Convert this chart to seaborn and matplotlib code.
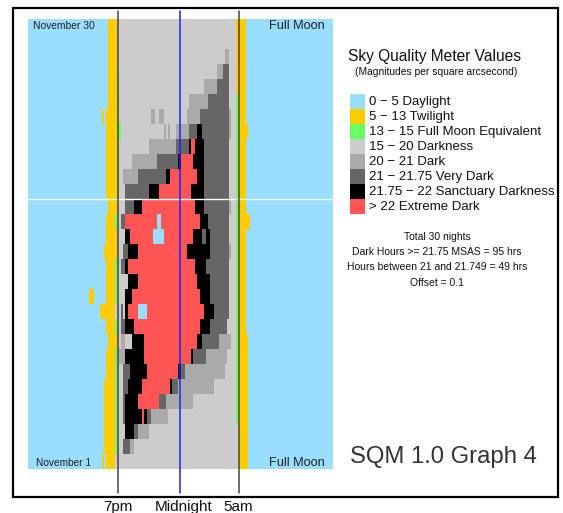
import matplotlib
matplotlib.use("Agg")
import matplotlib.pyplot as plt
from matplotlib.colors import ListedColormap
from matplotlib.patches import Rectangle
import numpy as np
import seaborn as sns

# sky quality classes (index = level used in the grid)
levels = ["0 \u2212 5 Daylight", "5 \u2212 13 Twilight", "13 \u2212 15 Full Moon Equivalent",
          "15 \u2212 20 Darkness", "20 \u2212 21 Dark", "21 \u2212 21.75 Very Dark",
          "21.75 \u2212 22 Sanctuary Darkness", "> 22 Extreme Dark"]
level_colors = ["#99ddff", "#ffcc00", "#66ff66", "#cccccc", "#aaaaaa", "#666666", "#000000", "#ff5555"]

# 10 minute slots from noon to noon
n_slots = 144

# each night: (level, first slot), top row = November 30
nights = [
    [(0, 0), (1, 38), (3, 42), (1, 98), (0, 103)],
    [(0, 0), (1, 38), (3, 42), (1, 98), (0, 103)],
    [(0, 0), (1, 38), (3, 42), (4, 93), (3, 95), (1, 98), (0, 103)],
    [(0, 0), (1, 38), (3, 42), (4, 89), (5, 92), (3, 95), (1, 98), (0, 103)],
    [(0, 0), (1, 38), (2, 42), (3, 43), (4, 83), (5, 89), (3, 95), (1, 98), (0, 103)],
    [(0, 0), (1, 38), (2, 42), (3, 43), (4, 76), (5, 85), (3, 95), (2, 98), (1, 99), (0, 103)],
    [(0, 0), (1, 35), (0, 36), (1, 37), (2, 42), (3, 43), (4, 58), (3, 60), (4, 62), (3, 64), (4, 75),
     (5, 81), (4, 95), (3, 96), (2, 98), (1, 99), (0, 103)],
    [(0, 0), (1, 37), (2, 42), (3, 44), (4, 64), (3, 65), (4, 66), (3, 67), (4, 70), (5, 76), (6, 80),
     (5, 82), (4, 95), (3, 96), (2, 98), (1, 99), (0, 104)],
    [(0, 0), (1, 37), (2, 42), (3, 43), (4, 57), (5, 70), (6, 76), (7, 77), (6, 79), (5, 83), (3, 95),
     (2, 98), (1, 99), (0, 103)],
    [(0, 0), (1, 37), (2, 42), (3, 43), (4, 49), (5, 61), (6, 71), (7, 72), (6, 78), (5, 83), (3, 95),
     (2, 98), (1, 99), (0, 103)],
    [(0, 0), (1, 37), (2, 42), (3, 43), (4, 45), (5, 52), (6, 65), (7, 67), (6, 80), (5, 83), (3, 95),
     (2, 98), (1, 99), (0, 103)],
    [(0, 0), (1, 37), (2, 42), (3, 43), (5, 46), (6, 57), (7, 62), (6, 77), (5, 83), (3, 95), (2, 98),
     (1, 99), (0, 103)],
    [(0, 0), (1, 38), (3, 42), (5, 46), (6, 50), (7, 54), (6, 79), (5, 83), (4, 95), (3, 96), (2, 98),
     (1, 99), (0, 103)],
    [(0, 0), (1, 37), (2, 41), (3, 42), (5, 44), (7, 46), (0, 61), (7, 63), (6, 81), (5, 85), (3, 95),
     (2, 98), (1, 99), (0, 105)],
    [(0, 0), (1, 37), (3, 42), (6, 46), (7, 48), (0, 59), (7, 64), (6, 78), (5, 82), (6, 84), (5, 86),
     (3, 95), (2, 98), (1, 99), (0, 103)],
    [(0, 0), (1, 36), (3, 42), (5, 45), (6, 47), (7, 52), (6, 75), (5, 86), (4, 95), (3, 96), (2, 98),
     (1, 99), (0, 103)],
    [(0, 0), (1, 37), (2, 41), (3, 42), (5, 44), (6, 46), (7, 47), (6, 79), (5, 84), (3, 95), (2, 98),
     (1, 99), (0, 103)],
    [(0, 0), (1, 37), (2, 41), (3, 42), (6, 47), (7, 52), (6, 80), (5, 86), (3, 95), (2, 98), (1, 99),
     (0, 103)],
    [(0, 0), (1, 29), (0, 31), (1, 37), (2, 41), (3, 42), (6, 46), (7, 49), (6, 81), (5, 86), (3, 95),
     (2, 98), (1, 99), (0, 103)],
    [(0, 0), (1, 34), (3, 41), (5, 44), (3, 45), (6, 46), (7, 47), (0, 52), (7, 56), (6, 83), (5, 88),
     (3, 95), (2, 98), (1, 99), (0, 103)],
    [(0, 0), (1, 37), (2, 41), (3, 42), (5, 44), (6, 46), (7, 50), (6, 81), (5, 86), (3, 94), (2, 98),
     (1, 99), (0, 103)],
    [(0, 0), (1, 38), (3, 42), (4, 44), (3, 46), (6, 49), (7, 55), (6, 80), (5, 82), (4, 90), (3, 96),
     (2, 98), (1, 99), (0, 104)],
    [(0, 0), (1, 37), (2, 41), (3, 42), (4, 43), (6, 46), (7, 55), (6, 77), (5, 78), (4, 84), (3, 94),
     (2, 98), (1, 99), (0, 104)],
    [(0, 0), (1, 37), (2, 41), (3, 42), (5, 45), (6, 48), (7, 56), (6, 71), (5, 72), (4, 74), (3, 93),
     (2, 98), (1, 99), (0, 104)],
    [(0, 0), (1, 36), (2, 41), (3, 42), (5, 45), (6, 47), (7, 54), (6, 67), (5, 68), (4, 71), (3, 88),
     (2, 98), (1, 99), (0, 104)],
    [(0, 0), (1, 36), (2, 41), (3, 42), (5, 45), (6, 46), (7, 52), (5, 62), (4, 65), (3, 78), (2, 98),
     (1, 99), (0, 104)],
    [(0, 0), (1, 36), (2, 41), (3, 42), (5, 45), (6, 46), (7, 54), (6, 55), (5, 56), (4, 58), (3, 66),
     (2, 98), (1, 99), (0, 104)],
    [(0, 0), (1, 36), (2, 41), (3, 42), (6, 46), (5, 50), (4, 52), (3, 57), (1, 99), (0, 104)],
    [(0, 0), (1, 36), (2, 41), (3, 42), (5, 45), (4, 48), (3, 50), (1, 99), (0, 104)],
    [(0, 0), (1, 35), (0, 36), (1, 37), (3, 41), (1, 99), (0, 104)],
]

time_marks = [42.5, 71.8, 99.6]
time_labels = ["7pm", "Midnight", "5am"]
time_colors = ["#444444", "#2222ee", "#444444"]

stats_lines = ["Total 30 nights", "Dark Hours >= 21.75 MSAS = 95 hrs",
               "Hours between 21 and 21.749 = 49 hrs", "Offset = 0.1"]

# build the night x slot grid
grid = np.zeros((len(nights), n_slots), dtype=int)
for r, segs in enumerate(nights):
    for k, (lev, start) in enumerate(segs):
        end = segs[k + 1][1] if k + 1 < len(segs) else n_slots
        grid[r, start:end] = lev

sns.set_style("white")
plt.rcParams["font.family"] = ["Liberation Sans", "DejaVu Sans"]

W, H = 563, 513
fig = plt.figure(figsize=(W / 100, H / 100), dpi=100)
ax = fig.add_axes([28 / W, 1 - 469 / H, 305 / W, 450 / H])

sns.heatmap(grid, ax=ax, cmap=ListedColormap(level_colors), vmin=-0.5, vmax=7.5,
            cbar=False, xticklabels=False, yticklabels=False)
ax.set_xlim(0, n_slots)

# white line between Nov 19 and Nov 18
ax.axhline(12, color="white", lw=1)

for xm, c in zip(time_marks, time_colors):
    ax.axvline(xm, ymin=-0.053, ymax=1.018, color=c, lw=1.1, clip_on=False)

ax.text(0.016, 0.984, "November 30", transform=ax.transAxes, fontsize=7.4, color="#222222",
        ha="left", va="center")
ax.text(0.974, 0.984, "Full Moon", transform=ax.transAxes, fontsize=9.2, color="#222222",
        ha="right", va="center")
ax.text(0.026, 0.013, "November 1", transform=ax.transAxes, fontsize=7.3, color="#222222",
        ha="left", va="center")
ax.text(0.974, 0.013, "Full Moon", transform=ax.transAxes, fontsize=9.2, color="#222222",
        ha="right", va="center")

label_x = [117.5, 184, 238]
for lx, lab in zip(label_x, time_labels):
    fig.text(lx / W, 1 - 507 / H, lab, fontsize=11, ha="center", va="center", color="#111111")

# outer frame
fig.add_artist(Rectangle((12.5 / W, 1 - 496.5 / H), 545 / W, 488.5 / H, transform=fig.transFigure,
                         fill=False, ec="black", lw=1.6))

# legend
fig.text(348 / W, 1 - 56 / H, "Sky Quality Meter Values", fontsize=11.2, ha="left", va="center",
         color="#111111")
fig.text(436.5 / W, 1 - 72 / H, "(Magnitudes per square arcsecond)", fontsize=7.4, ha="center",
         va="center", color="#111111")
top = 94.3
for i, (lab, c) in enumerate(zip(levels, level_colors)):
    fig.add_artist(Rectangle((350 / W, 1 - (top + 15 * (i + 1)) / H), 15 / W, 15 / H,
                             transform=fig.transFigure, facecolor=c, edgecolor="none"))
    fig.text(369 / W, 1 - (top + 15 * i + 7.3) / H, lab, fontsize=9.5, ha="left", va="center",
             color="#111111")

for i, line in enumerate(stats_lines):
    fig.text(437 / W, 1 - (236.7 + 15.3 * i) / H, line, fontsize=7.5, ha="center", va="center",
             color="#111111")

fig.text(350 / W, 1 - 457 / H, "SQM 1.0 Graph 4", fontsize=17.2, ha="left", va="center",
         color="#333333")

fig.savefig("out.png", dpi=100)
